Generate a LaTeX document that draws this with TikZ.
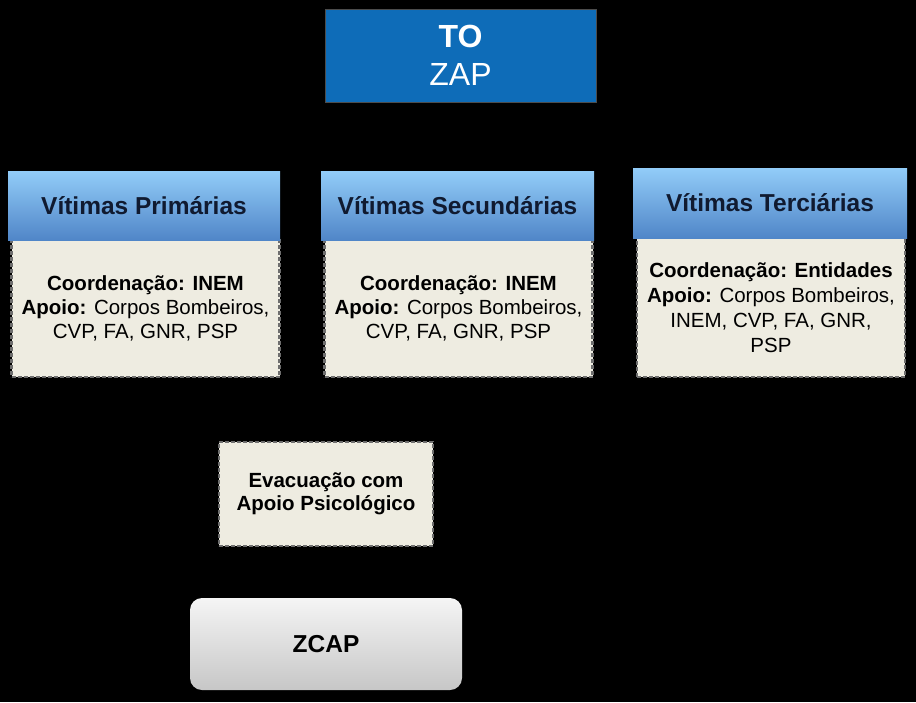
\documentclass[tikz,border=0pt]{standalone}
\usepackage{fontspec}
\setmainfont{Liberation Sans}
\usetikzlibrary{positioning}
\definecolor{toblue}{RGB}{14,108,184}
\definecolor{hdtop}{RGB}{146,204,248}
\definecolor{hdbot}{RGB}{80,134,200}
\definecolor{hdtext}{RGB}{16,26,48}
\definecolor{bodyfill}{RGB}{238,236,225}
\definecolor{dashgray}{RGB}{110,110,110}
\tikzset{
  topbox/.style={draw=black!70,fill=toblue,text=white,align=center,
    minimum width=271pt,minimum height=93pt,inner sep=0pt,
    font=\fontsize{32}{38}\selectfont},
  headbox/.style={top color=hdtop,bottom color=hdbot,draw=none,text=hdtext,
    minimum width=272pt,minimum height=69pt,inner sep=0pt,
    font=\bfseries\fontsize{24.5}{28}\selectfont},
  bodybox/.style={fill=bodyfill,draw=dashgray,dash pattern=on 4pt off 2pt,line width=2.5pt,
    align=center,minimum width=268pt,minimum height=137pt,inner sep=0pt,
    font=\fontsize{20.5}{24.3}\selectfont},
  zcapbox/.style={rounded corners=12pt,top color=black!4,bottom color=black!22,
    draw=none,minimum width=272pt,minimum height=92pt,
    font=\bfseries\fontsize{24.5}{28}\selectfont}
}
\begin{document}
\begin{tikzpicture}[x=1pt,y=-1pt]
% background
\fill[black] (0,0) rectangle (916,702);
\useasboundingbox (0,0) rectangle (916,702);
% top
\node[topbox] (to) at (460.5,55.5) {\textbf{TO}\\ZAP};
% the three groups
\node[bodybox] (prim) at (145.5,308.5) {\textbf{Coordenação: INEM}\\\textbf{Apoio:} Corpos Bombeiros,\\CVP, FA, GNR, PSP};
\node[headbox] (primh) at (144,205.5) {Vítimas Primárias};
\node[bodybox] (sec) at (458.5,308.5) {\textbf{Coordenação: INEM}\\\textbf{Apoio:} Corpos Bombeiros,\\CVP, FA, GNR, PSP};
\node[headbox,minimum width=273pt] (sech) at (457.5,205.5) {Vítimas Secundárias};
\node[bodybox,minimum height=139pt,font=\fontsize{20.5}{25}\selectfont] (ter) at (771,307.5) {\textbf{Coordenação: Entidades}\\\textbf{Apoio:} Corpos Bombeiros,\\INEM, CVP, FA, GNR,\\PSP};
\node[headbox,minimum width=274pt,minimum height=70pt] (terh) at (770,203) {Vítimas Terciárias};
% evacuation and zcap
\node[bodybox,minimum width=214pt,minimum height=104pt,font=\bfseries\fontsize{20.5}{23}\selectfont] (evac) at (326,494) {Evacuação com\\Apoio Psicológico};
\node[zcapbox] (zcap) at (326,644) {ZCAP};
\end{tikzpicture}
\end{document}
